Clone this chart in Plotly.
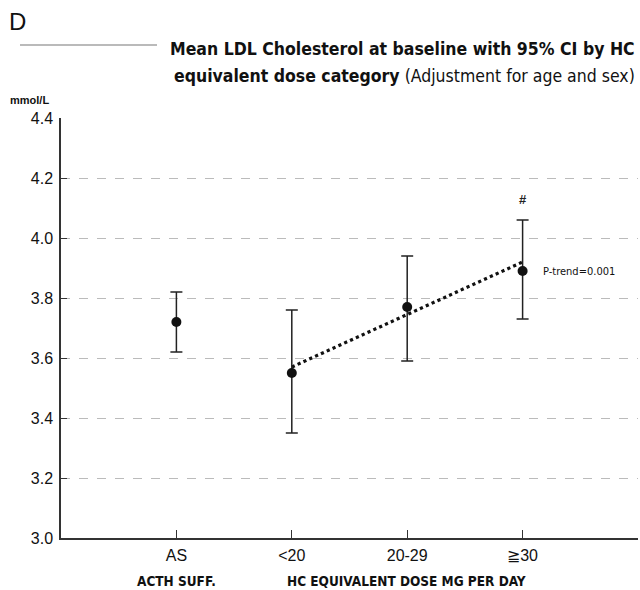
import plotly.graph_objects as go

categories = ["AS", "<20", "20-29", "≧30"]
cat_pos = [1, 2, 3, 4]
means = [3.72, 3.55, 3.77, 3.89]
ci_low = [3.62, 3.35, 3.59, 3.73]
ci_high = [3.82, 3.76, 3.94, 4.06]
trend_x = [2, 4]
trend_y = [3.57, 3.92]
y_ticks = [3.0, 3.2, 3.4, 3.6, 3.8, 4.0, 4.2, 4.4]

L, R, T, B = 61, 2, 118, 52
W, H = 640, 590
PW, PH = W - L - R, H - T - B

def px(x):
    return (x - L) / PW

def py(y):
    return (H - B - y) / PH

FONT = "DejaVu Sans Condensed, Liberation Sans Narrow, Arial Narrow, sans-serif"
FONT2 = "Liberation Sans, Arial, sans-serif"

fig = go.Figure()
fig.add_trace(go.Scatter(
    x=trend_x, y=trend_y, mode="lines",
    line=dict(color="#111", width=3.2, dash="dot"),
    hoverinfo="skip", showlegend=False))
fig.add_trace(go.Scatter(
    x=cat_pos, y=means, mode="markers",
    marker=dict(color="#111", size=10),
    error_y=dict(type="data", symmetric=False,
                 array=[h - m for h, m in zip(ci_high, means)],
                 arrayminus=[m - l for m, l in zip(means, ci_low)],
                 color="#222", thickness=1.5, width=6),
    showlegend=False))

ann = [
    dict(text="D", x=px(7), y=py(22), xanchor="left", yanchor="middle",
         font=dict(size=24, family=FONT2, color="#111")),
    dict(text="<b>Mean LDL Cholesterol at baseline with 95% CI by HC</b>",
         x=px(637), y=py(49), xanchor="right", yanchor="middle",
         font=dict(size=17.5, family=FONT, color="#111")),
    dict(text="<b>equivalent dose category</b> (Adjustment for age and sex)",
         x=px(637), y=py(76), xanchor="right", yanchor="middle",
         font=dict(size=17.5, family=FONT, color="#111")),
    dict(text="<b>mmol/L</b>", x=px(8), y=py(100), xanchor="left", yanchor="middle",
         font=dict(size=11, family=FONT2, color="#111")),
    dict(text="<b>#</b>", x=4, y=4.13, xref="x", yref="y", xanchor="center", yanchor="middle",
         font=dict(size=13, family=FONT2, color="#222")),
    dict(text="P-trend=0.001", x=4.16, y=3.89, xref="x", yref="y", xanchor="left",
         yanchor="middle", font=dict(size=11, family=FONT, color="#111")),
    dict(text="<b>ACTH SUFF.</b>", x=px(176), y=py(581), xanchor="center", yanchor="middle",
         font=dict(size=13.5, family=FONT, color="#111")),
    dict(text="<b>HC EQUIVALENT DOSE MG PER DAY</b>", x=px(406), y=py(581),
         xanchor="center", yanchor="middle",
         font=dict(size=13.5, family=FONT, color="#111")),
]
for a in ann:
    a.setdefault("xref", "paper")
    a.setdefault("yref", "paper")
    a["showarrow"] = False

fig.update_layout(
    width=W, height=H,
    margin=dict(l=L, r=R, t=T, b=B),
    paper_bgcolor="white", plot_bgcolor="white",
    annotations=ann,
    shapes=[dict(type="line", xref="paper", yref="paper",
                 x0=px(20), x1=px(157), y0=py(45), y1=py(45),
                 line=dict(color="#777", width=1.2))],
    xaxis=dict(range=[0, 5], tickvals=cat_pos, ticktext=categories,
               showgrid=False, zeroline=False, showline=True,
               linecolor="#333", linewidth=1.5, ticks="inside", ticklen=8,
               tickcolor="#333", tickwidth=1.2, ticklabelstandoff=2,
               tickfont=dict(size=16, family=FONT2, color="#111")),
    yaxis=dict(range=[3.0, 4.4], tickvals=y_ticks,
               ticktext=[f"{v:.1f}" for v in y_ticks],
               showgrid=True, gridcolor="#bbb", griddash="dash", gridwidth=1,
               zeroline=False, showline=True, linecolor="#333", linewidth=1.5,
               ticks="inside", ticklen=6, tickcolor="#333", tickwidth=1.2,
               ticklabelstandoff=3,
               tickfont=dict(size=16, family=FONT2, color="#111")),
)

fig.write_html("out.html")
